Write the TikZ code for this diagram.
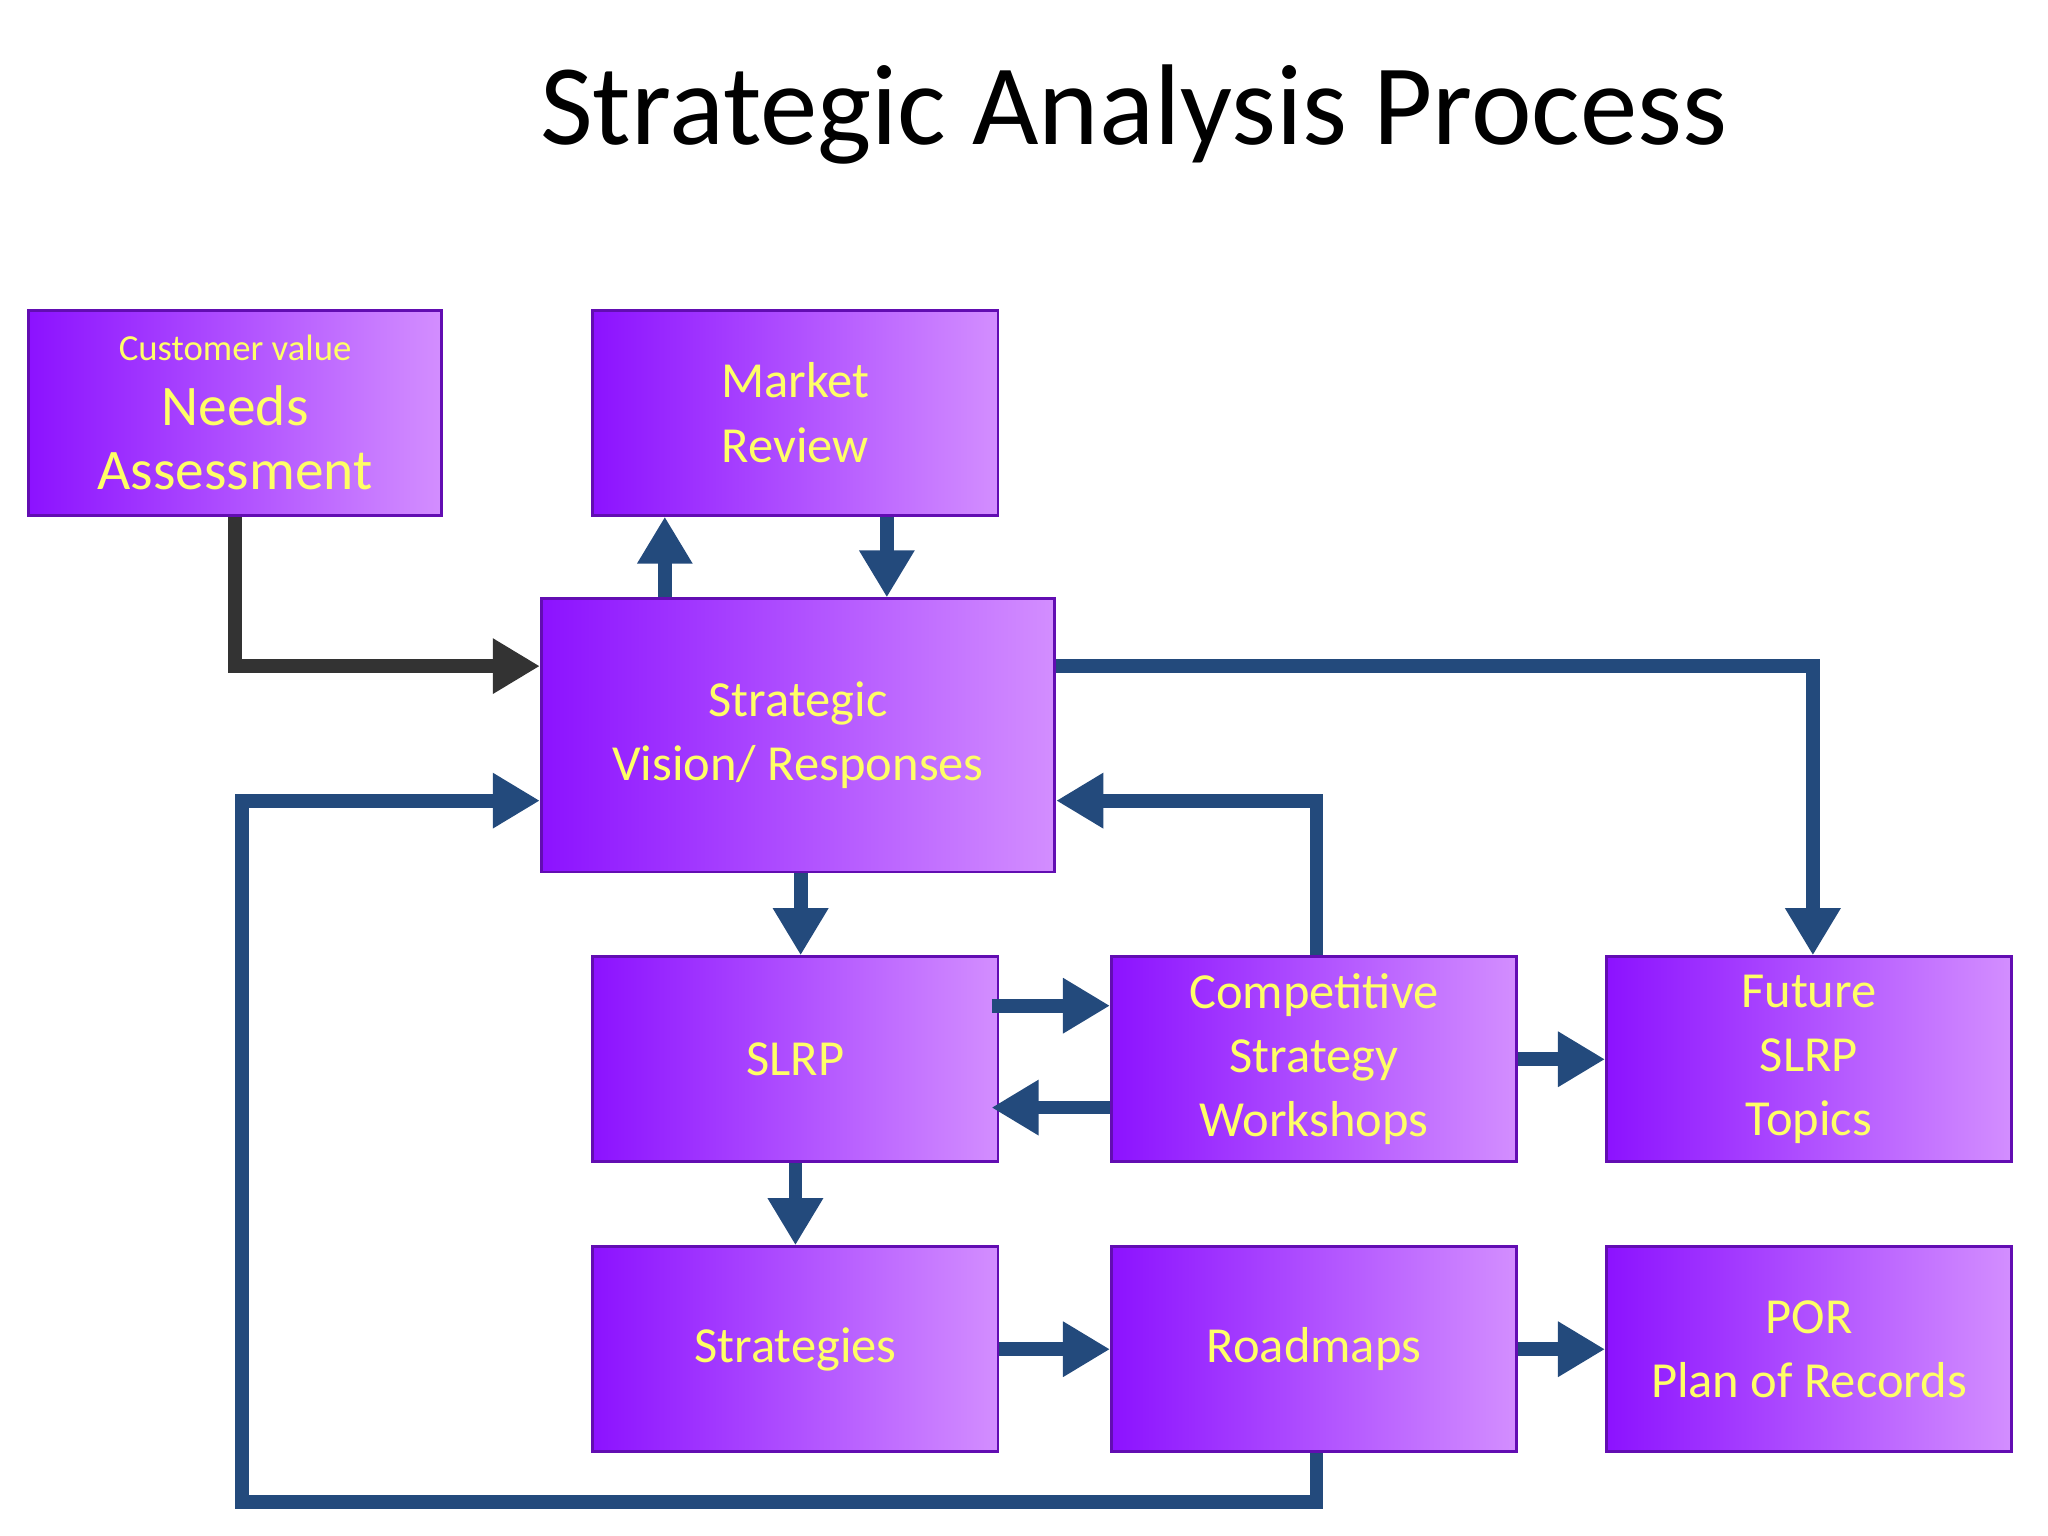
\documentclass[tikz,border=0pt]{standalone}
\usepackage{fontspec}
\setmainfont{Carlito}
\usetikzlibrary{arrows.meta,shadows}
\definecolor{boxdark}{HTML}{8C12FF}
\definecolor{boxlight}{HTML}{D38EFF}
\definecolor{flowblue}{HTML}{234A7C}
\definecolor{flowgray}{HTML}{333333}
\definecolor{labelyellow}{HTML}{FFFF66}
\begin{document}
\begin{tikzpicture}[x=0.01cm, y=-0.01cm,
    box/.style={rectangle, draw=boxdark!70!black, line width=0.6pt,
        left color=boxdark, right color=boxlight, minimum height=1.57cm,
        minimum width=3.1cm, align=center, text=labelyellow, font=\fontsize{11}{14}\selectfont},
    flow/.style={draw=flowblue, line width=3pt, -{Triangle[length=0.36cm, width=0.4cm]}},
    ]
    \useasboundingbox (0,0) rectangle (1568,1176);

    % Title
    \node[font=\fontsize{25}{30}\selectfont] (title) at (868,88) {Strategic Analysis Process};

    % Boxes
    \node[box, minimum width=3.16cm] (need) at (180,316)
        {{\fontsize{8}{10}\selectfont Customer value}\\{\fontsize{12.5}{17}\selectfont Needs}\\{\fontsize{12.5}{17}\selectfont Assessment}};
    \node[box] (market) at (609,316) {Market\\Review};
    \node[box, minimum width=3.93cm, minimum height=2.09cm] (vision) at (611,563) {Strategic\\Vision/ Responses};
    \node[box] (slrp) at (609,811) {SLRP};
    \node[box] (comp) at (1006,811) {Competitive\\Strategy\\Workshops};
    \node[box] (future) at (1385,811) {Future\\SLRP\\Topics};
    \node[box] (strat) at (609,1033) {Strategies};
    \node[box] (road) at (1006,1033) {Roadmaps};
    \node[box] (por) at (1385,1033) {POR\\Plan of Records};

    % Corner points of the long connectors
    \coordinate (loopbottom) at (185,1150);

    % Connectors
    \draw[flow, draw=flowgray] (need.south) |- (vision.west |- 0,510);
    \draw[flow] (vision.north -| 509,0) -- (market.south -| 509,0);
    \draw[flow] (market.south -| 679,0) -- (vision.north -| 679,0);
    \draw[flow] (vision.east |- 0,510) -| (future.north -| 1388,0);
    \draw[flow] (comp.north -| 1008,0) |- (vision.east |- 0,613);
    \draw[flow] (road.south -| 1008,0) |- (loopbottom) |- (vision.west |- 0,613);
    \draw[flow] (vision.south -| 613,0) -- (slrp.north -| 613,0);
    \draw[flow] (slrp.east |- 0,770) ++(-6,0) -- (comp.west |- 0,770);
    \draw[flow] (comp.west |- 0,848) -- ([xshift=-0.06cm]slrp.east |- 0,848);
    \draw[flow] (comp) -- (future);
    \draw[flow] (slrp) -- (strat);
    \draw[flow] (strat) -- (road);
    \draw[flow] (road) -- (por);
\end{tikzpicture}
\end{document}
